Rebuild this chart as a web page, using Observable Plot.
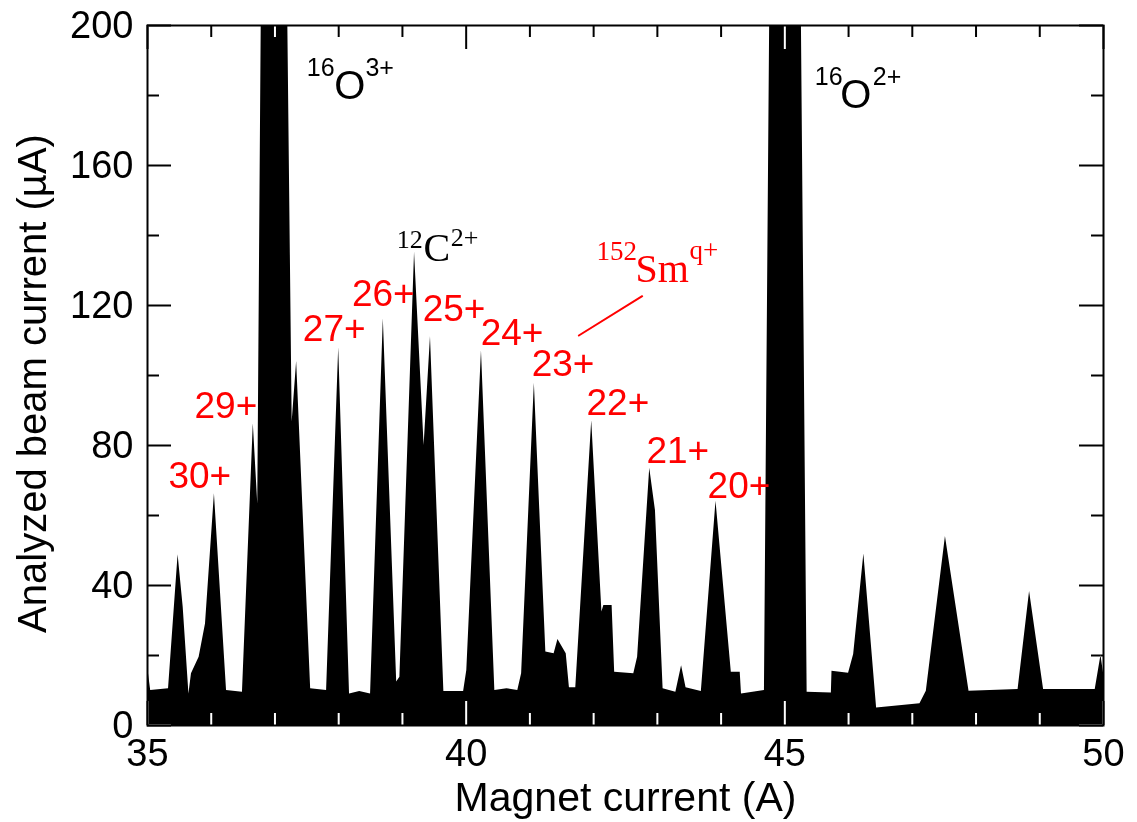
<!DOCTYPE html>
<html>
<head>
<meta charset="utf-8">
<script src="https://cdn.jsdelivr.net/npm/d3@7"></script>
<script src="https://cdn.jsdelivr.net/npm/@observablehq/plot@0.6"></script>
<style>
  html, body { margin: 0; padding: 0; background: #fff; }
  #chart svg { display: block; }
</style>
</head>
<body>
<div id="chart"></div>
<script>
// ---- data ----
const magnetCurrent = [35.00,35.05,35.33,35.48,35.56,35.65,35.69,35.81,35.91,36.05,36.24,36.49,36.66,36.73,36.95,37.27,37.34,37.56,37.81,38.00,38.17,38.33,38.50,38.70,38.91,38.96,39.19,39.34,39.44,39.65,39.96,40.01,40.24,40.45,40.64,40.81,40.87,41.07,41.25,41.38,41.44,41.57,41.62,41.72,41.97,42.13,42.16,42.29,42.33,42.63,42.69,42.88,42.97,43.09,43.29,43.38,43.45,43.69,43.92,44.16,44.30,44.32,44.68,45.00,45.35,45.73,45.74,46.00,46.08,46.24,46.44,47.12,47.22,47.52,47.89,48.66,48.84,49.06,49.87,49.96,50.00];
const beamCurrent = [17,10,10.5,48.8,33.8,9,14.8,19.5,29,66.2,10,9.5,86.2,63.3,620,86.7,104,10.5,10,107.9,9,9.7,9,116.2,12.4,13.8,135.2,80,111.1,9.7,9.7,15.7,107.1,10,10.5,10,14.8,97.8,21,20.5,24.6,20.5,10.8,10.8,87.1,32.4,34.3,34.3,15.2,14.8,19.5,73.5,61.4,10.5,9.5,17.1,10.8,9.7,64.1,15.2,15.2,9,10,755,9.5,9.3,15.5,14.9,20.3,49,5,6.2,9.8,54,9.8,10.3,38.3,10.3,10.3,20,15];

const xMajorTicks = [35, 40, 45, 50];
const xMinorTicks = [36, 37, 38, 39, 41, 42, 43, 44, 46, 47, 48, 49];
const yMajorTicks = [0, 40, 80, 120, 160, 200];
const yMinorTicks = [20, 60, 100, 140, 180];

// Sm charge-state labels
const chargeLabels = ["30+", "29+", "27+", "26+", "25+", "24+", "23+", "22+", "21+", "20+"];
const chargeLabelX = [35.82, 36.23, 37.93, 38.70, 39.81, 40.72, 41.52, 42.38, 43.32, 44.28];
const chargeLabelY = [68, 88, 110, 120, 115.7, 108.6, 100, 88.8, 75.1, 65.1];

// Oxygen labels (sans): mass number, element, charge
const oxyMass = ["16", "16"];
const oxyMassX = [37.50, 45.47];
const oxyMassY = [185.7, 182.9];
const oxyElem = ["O", "O"];
const oxyElemX = [37.93, 45.87];
const oxyElemY = [178.9, 176.3];
const oxyCharge = ["3+", "2+"];
const oxyChargeX = [38.42, 46.38];
const oxyChargeY = [185.7, 182.9];

// Carbon label (serif, black)
const carbonSup = ["12", "2+"];
const carbonSupX = [38.91, 39.76];
const carbonSupY = [136.3, 136.9];
const carbonElem = ["C"];
const carbonElemX = [39.33];
const carbonElemY = [132.6];

// Samarium label (serif, red)
const smSup = ["152", "q+"];
const smSupX = [42.045, 43.505];
const smSupY = [132.9, 133.4];
const smElem = ["Sm"];
const smElemX = [42.657];
const smElemY = [126.6];
const smLeaderX = [42.762, 41.768];
const smLeaderY = [122.66, 111.43];

// ---- build tables ----
const spectrum = magnetCurrent.map((x, i) => ({x, y: beamCurrent[i]}));
const zipT = (t, xs, ys) => t.map((text, i) => ({text, x: xs[i], y: ys[i]}));
const charges = zipT(chargeLabels, chargeLabelX, chargeLabelY);
const oMass = zipT(oxyMass, oxyMassX, oxyMassY);
const oElem = zipT(oxyElem, oxyElemX, oxyElemY);
const oCharge = zipT(oxyCharge, oxyChargeX, oxyChargeY);
const cSup = zipT(carbonSup, carbonSupX, carbonSupY);
const cElem = zipT(carbonElem, carbonElemX, carbonElemY);
const sSup = zipT(smSup, smSupX, smSupY);
const sElem = zipT(smElem, smElemX, smElemY);
const leader = smLeaderX.map((x, i) => ({x, y: smLeaderY[i]}));

const W = 1137, H = 822;
const mL = 147, mR = 34, mT = 25, mB = 97;
const fw = W - mL - mR, fh = H - mT - mB;
const majorLen = 24, minorLen = 12;
const SANS = "'Liberation Sans', Arial, Helvetica, sans-serif";
const SERIF = "'Liberation Serif', 'Times New Roman', serif";
const RED = "#ff0000";

const tickStyle = {stroke: "white", strokeWidth: 2, mixBlendMode: "difference"};
const piece = (data, opts) => Plot.text(data, {x: "x", y: "y", text: "text", textAnchor: "start", lineAnchor: "bottom", ...opts});

const chart = Plot.plot({
  width: W, height: H,
  marginLeft: mL, marginRight: mR, marginTop: mT, marginBottom: mB,
  style: {fontFamily: SANS, background: "white", color: "black", overflow: "visible"},
  x: {domain: [35, 50]},
  y: {domain: [0, 200]},
  marks: [
    Plot.frame({fill: "white", stroke: null}),
    Plot.areaY(spectrum, {x: "x", y: "y", fill: "black", clip: true}),
    // inward ticks (white over the black fill, black over white)
    Plot.tickX(xMajorTicks, {x: d => d, insetTop: fh - majorLen, ...tickStyle}),
    Plot.tickX(xMinorTicks, {x: d => d, insetTop: fh - minorLen, ...tickStyle}),
    Plot.tickX(xMajorTicks, {x: d => d, insetBottom: fh - majorLen, ...tickStyle}),
    Plot.tickX(xMinorTicks, {x: d => d, insetBottom: fh - minorLen, ...tickStyle}),
    Plot.tickY(yMajorTicks, {y: d => d, insetRight: fw - majorLen, ...tickStyle}),
    Plot.tickY(yMinorTicks, {y: d => d, insetRight: fw - minorLen, ...tickStyle}),
    Plot.tickY(yMajorTicks, {y: d => d, insetLeft: fw - majorLen, ...tickStyle}),
    Plot.tickY(yMinorTicks, {y: d => d, insetLeft: fw - minorLen, ...tickStyle}),
    Plot.frame({stroke: "black", strokeWidth: 2}),
    Plot.axisX({ticks: xMajorTicks, tickSize: 0, tickPadding: 14, fontSize: 38, label: null, tickFormat: d => String(d)}),
    Plot.axisY({ticks: yMajorTicks, tickSize: 0, tickPadding: 14, fontSize: 38, label: null, tickFormat: d => String(d)}),
    Plot.text(["Magnet current (A)"], {frameAnchor: "bottom", textAnchor: "middle", lineAnchor: "bottom", dy: 85, fontSize: 41, fill: "black"}),
    Plot.text(["Analyzed beam current (\u00B5A)"], {frameAnchor: "left", textAnchor: "middle", lineAnchor: "bottom", rotate: -90, dx: -102, dy: 8, fontSize: 40, fill: "black"}),
    // charge-state labels
    Plot.text(charges, {x: "x", y: "y", text: "text", textAnchor: "middle", lineAnchor: "bottom", fontSize: 37, fill: RED}),
    // oxygen labels
    piece(oMass, {fontSize: 25, fill: "black"}),
    piece(oElem, {fontSize: 40, fill: "black"}),
    piece(oCharge, {fontSize: 25, fill: "black"}),
    // carbon label
    piece(cSup, {fontSize: 26, fill: "black", fontFamily: SERIF}),
    piece(cElem, {fontSize: 40, fill: "black", fontFamily: SERIF}),
    // samarium label
    piece(sSup, {fontSize: 27, fill: RED, fontFamily: SERIF}),
    piece(sElem, {fontSize: 40, fill: RED, fontFamily: SERIF}),
    Plot.line(leader, {x: "x", y: "y", stroke: RED, strokeWidth: 2})
  ]
});
document.getElementById("chart").appendChild(chart);
</script>
</body>
</html>
